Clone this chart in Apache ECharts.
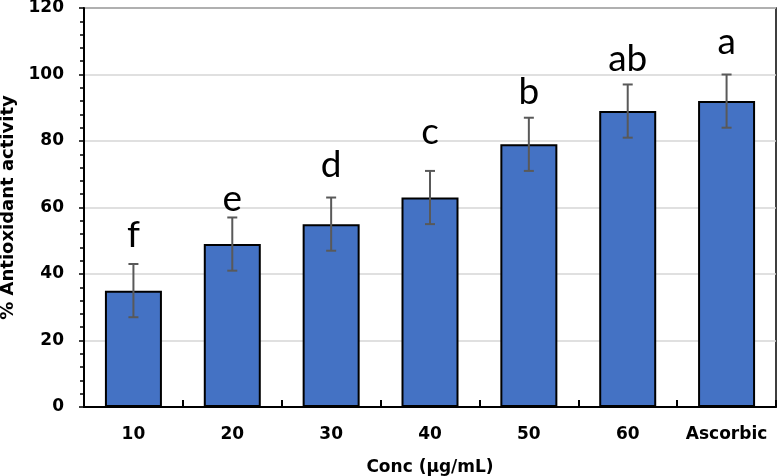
<!DOCTYPE html>
<html><head><meta charset="utf-8">
<script src="https://cdn.jsdelivr.net/npm/echarts@6/dist/echarts.min.js"></script>
<style>html,body{margin:0;padding:0;background:#fff}#c{width:777px;height:476px}</style>
</head><body><div id="c"></div>
<script>
const categories = ['10','20','30','40','50','60','Ascorbic'];
const meanValues = [35, 49, 55, 63, 79, 89, 92];
const errLow = [27, 41, 47, 55, 71, 81, 84];
const errHigh = [43, 57, 63, 71, 87, 97, 100];
const letters = ['f','e','d','c','b','ab','a'];
const letterLevel = [47.7, 58.6, 68.6, 78.6, 90.6, 100.6, 105.6];
const yTicks = [0, 20, 40, 60, 80, 100, 120];

const chart = echarts.init(document.getElementById('c'), null, {renderer:'canvas'});
const tickFont = {fontFamily:'DejaVu Sans', fontWeight:'bold', fontSize:17, color:'#000'};
chart.setOption({
  animation:false,
  grid:{left:84, right:1, top:8, bottom:69, containLabel:false, outerBoundsMode:'none',
    show:true, borderColor:'#000', borderWidth:1.5, backgroundColor:'transparent'},
  xAxis:[{
    type:'category', data:categories, name:'Conc (µg/mL)', nameLocation:'middle', nameGap:52,
    nameTextStyle:{fontFamily:'DejaVu Sans', fontWeight:'bold', fontSize:17, color:'#000'},
    axisLine:{lineStyle:{color:'#000', width:2}},
    axisTick:{alignWithLabel:true, length:5, lineStyle:{color:'#000', width:2}},
    axisLabel:Object.assign({margin:19, interval:0}, tickFont),
    splitLine:{show:false}
  },{
    type:'category', data:categories, position:'bottom',
    axisLine:{show:false}, axisLabel:{show:false},
    axisTick:{show:true, inside:true, length:7, interval:0, lineStyle:{color:'#000', width:2}}
  }],
  yAxis:{
    type:'value', min:yTicks[0], max:yTicks[yTicks.length-1], interval:20,
    name:'% Antioxidant activity', nameLocation:'middle', nameGap:62,
    nameTextStyle:{fontFamily:'DejaVu Sans', fontWeight:'bold', fontSize:18, color:'#000'},
    axisLine:{show:true, lineStyle:{color:'#000', width:2}},
    axisTick:{show:true, length:5, lineStyle:{color:'#000', width:1.5}},
    minorTick:{show:true, splitNumber:5, length:4, lineStyle:{color:'#000', width:1.5}},
    axisLabel:Object.assign({margin:20}, tickFont),
    splitLine:{show:true, lineStyle:{color:'#d6d6d6', width:1.5}}
  },
  series:[{
    type:'bar', data:meanValues, barWidth:57, xAxisIndex:0,
    itemStyle:{color:'#4472C4', borderColor:'#000', borderWidth:2}
  },{
    type:'custom', xAxisIndex:0,
    data:categories.map((c,i)=>[i, errLow[i], errHigh[i]]),
    renderItem:function(params, api){
      const lo = api.coord([api.value(0), api.value(1)]);
      const hi = api.coord([api.value(0), api.value(2)]);
      const hw = 5;
      const st = {stroke:'#595959', lineWidth:2};
      return {type:'group', children:[
        {type:'line', shape:{x1:hi[0], y1:hi[1], x2:lo[0], y2:lo[1]}, style:st},
        {type:'line', shape:{x1:hi[0]-hw, y1:hi[1], x2:hi[0]+hw, y2:hi[1]}, style:st},
        {type:'line', shape:{x1:lo[0]-hw, y1:lo[1], x2:lo[0]+hw, y2:lo[1]}, style:st}
      ]};
    },
    z:5
  },{
    type:'custom', xAxisIndex:0,
    data:categories.map((c,i)=>[i, letterLevel[i]]),
    renderItem:function(params, api){
      const p = api.coord([api.value(0), api.value(1)]);
      return {type:'text', style:{x:p[0], y:p[1]+5, text:letters[params.dataIndex], align:'center', verticalAlign:'bottom',
        fontFamily:'Lato', fontSize:37, lineHeight:37, fill:'#000'}};
    },
    z:6
  }]
});
</script></body></html>
